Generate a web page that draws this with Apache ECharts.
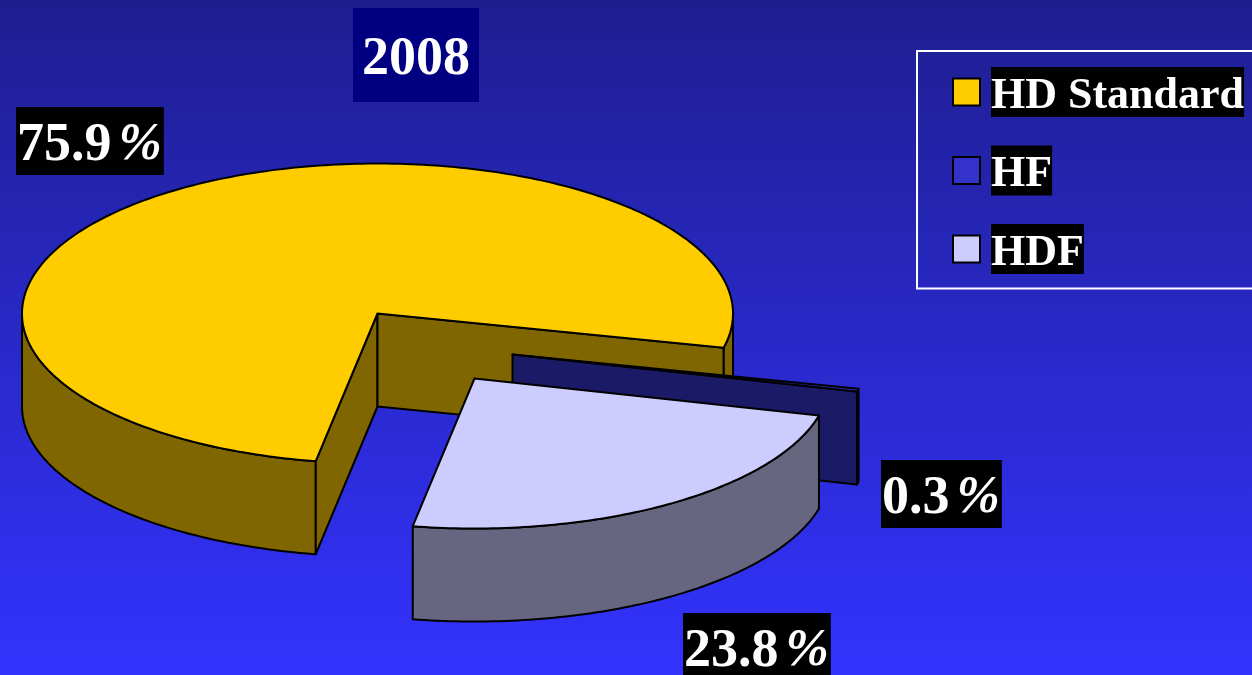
<!DOCTYPE html>
<html>
<head>
<meta charset="utf-8">
<style>html,body{margin:0;padding:0;background:#000}#c{width:1252px;height:675px}</style>
<script src="https://cdn.jsdelivr.net/npm/echarts@6/dist/echarts.min.js"></script>
</head>
<body>
<div id="c"></div>
<script>
// Data
const chartTitle = '2008';
const categories = ['HD Standard', 'HF', 'HDF'];
const shares = [75.9, 0.3, 23.8];

// Styles and layout (not data)
const topColors = ['#FFCC00', '#3333CC', '#CCCCFF'];
const sideColors = ['#806600', '#1A1A66', '#666680'];
const explodeOffsets = [[0, 0], [135, 41], [97, 65]];
const labelBoxes = [[16, 107], [881, 460], [683, 613]];
const CX = 377.5, CY = 313.5, RX = 355.5, RY = 150, DEPTH = 93, START_DEG = 100;
const SERIF = '"Liberation Serif", "Times New Roman", serif';

const toDeg = v => echarts.number.linearMap(v, [0, 100], [0, 360]);
const rad = d => d * Math.PI / 180;

function arc(cx, cy, from, to) {
  const pts = [];
  const n = Math.max(1, Math.ceil(to - from));
  for (let i = 0; i <= n; i++) {
    const t = rad(from + (to - from) * i / n);
    pts.push([cx + RX * Math.cos(t), cy + RY * Math.sin(t)]);
  }
  return pts;
}
function poly(points, fill) {
  return { type: 'polygon', shape: { points }, silent: true,
    style: { fill, stroke: '#000', lineWidth: 2, lineJoin: 'round' } };
}
function sliceRender(index) {
  return function (params, api) {
    const share = api.value(0);
    const before = shares.slice(0, index).reduce((s, v) => s + v, 0);
    const a = START_DEG + toDeg(before);
    const b = a + toDeg(share);
    const cx = CX + explodeOffsets[index][0];
    const cy = CY + explodeOffsets[index][1];
    const kids = [];
    const side = sideColors[index];
    // curved outer wall: only the part facing the viewer
    [0, 360].forEach(base => {
      const lo = Math.max(a, base), hi = Math.min(b, base + 180);
      if (hi > lo) {
        const upper = arc(cx, cy, lo, hi);
        const lower = arc(cx, cy + DEPTH, lo, hi).reverse();
        kids.push(poly(upper.concat(lower), side));
      }
    });
    // radial cut faces that face the viewer
    [[a, a - 90], [b, b + 90]].forEach(([edge, normal]) => {
      if (Math.sin(rad(normal)) > 0) {
        const t = rad(edge);
        const px = cx + RX * Math.cos(t), py = cy + RY * Math.sin(t);
        kids.push(poly([[cx, cy], [px, py], [px, py + DEPTH], [cx, cy + DEPTH]], side));
      }
    });
    // top face
    kids.push(poly([[cx, cy]].concat(arc(cx, cy, a, b)), topColors[index]));
    // value label
    kids.push({
      type: 'text', x: labelBoxes[index][0], y: labelBoxes[index][1], silent: true, z2: 100,
      style: {
        text: '{v|' + share.toFixed(1) + '}{p|%}',
        backgroundColor: '#000',
        padding: [10, 2, 0, 1],
        rich: {
          v: { fontFamily: SERIF, fontWeight: 'bold', fontSize: 54, lineHeight: 58, fill: '#fff' },
          p: { fontFamily: SERIF, fontStyle: 'italic', fontWeight: 'bold', fontSize: 52, lineHeight: 58, fill: '#fff', padding: [0, 0, 0, 7] }
        }
      }
    });
    return { type: 'group', children: kids };
  };
}

const chart = echarts.init(document.getElementById('c'), null, { renderer: 'canvas' });
chart.setOption({
  animation: false,
  backgroundColor: {
    type: 'linear', x: 0, y: 0, x2: 0, y2: 1,
    colorStops: [{ offset: 0, color: '#1E1E90' }, { offset: 1, color: '#3333FF' }]
  },
  title: {
    text: chartTitle, left: 353, top: 8, padding: [10, 9, 0, 9],
    backgroundColor: '#000080',
    textStyle: { fontFamily: SERIF, fontWeight: 'bold', fontSize: 54, lineHeight: 84, color: '#fff' }
  },
  legend: {
    orient: 'vertical', left: 917, top: 51, icon: 'rect',
    padding: [16, 200, 13, 35], itemWidth: 27, itemHeight: 27, itemGap: 27,
    borderColor: '#fff', borderWidth: 2, selectedMode: false,
    data: categories.map((name, i) => ({ name, itemStyle: { color: topColors[i], borderColor: '#000', borderWidth: 2 } })),
    formatter: '{s|}{t|{name}}',
    textStyle: {
      fontFamily: SERIF, fontWeight: 'bold', fontSize: 44, color: '#fff',
      rich: {
        s: { width: 6, fontSize: 1, lineHeight: 1 },
        t: { fontFamily: SERIF, fontWeight: 'bold', fontSize: 44, color: '#fff', backgroundColor: '#000', height: 41, lineHeight: 50, padding: [9, 0, 0, 0] }
      }
    }
  },
  tooltip: { show: false },
  series: categories.map((name, i) => ({
    type: 'custom', name, coordinateSystem: 'none', silent: true, z: 2 + i,
    itemStyle: { color: topColors[i] },
    data: [[shares[i]]],
    renderItem: sliceRender(i)
  }))
});
</script>
</body>
</html>
